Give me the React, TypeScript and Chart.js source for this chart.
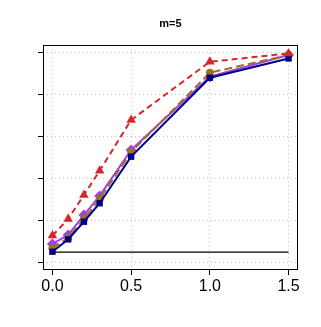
import React, { useEffect, useRef } from "react";
import { Chart, registerables } from "chart.js";

Chart.register(...registerables);

const xValues = [0, 0.1, 0.2, 0.3, 0.5, 1.0, 1.5];
const redSeries = [0.129, 0.208, 0.322, 0.438, 0.68, 0.957, 0.997];
const purpleSeries = [0.089, 0.132, 0.227, 0.318, 0.537, 0.886, 0.989];
const brownSeries = [0.069, 0.118, 0.208, 0.303, 0.527, 0.905, 0.989];
const navySeries = [0.052, 0.111, 0.195, 0.283, 0.505, 0.881, 0.973];
const baselineValue = 0.05;
const xTicks = [0, 0.5, 1.0, 1.5];
const yTicks = [0, 0.2, 0.4, 0.6, 0.8, 1.0];
const titleText = "m=5";

const pts = (ys: number[]) => xValues.map((x, i) => ({ x, y: ys[i] }));

const boxPlugin = {
  id: "boxPlugin",
  afterDraw(chart: any) {
    const { ctx, chartArea } = chart;
    ctx.save();
    ctx.strokeStyle = "#000";
    ctx.lineWidth = 1;
    ctx.setLineDash([]);
    ctx.strokeRect(
      Math.round(chartArea.left) + 0.5,
      Math.round(chartArea.top) + 0.5,
      Math.round(chartArea.right - chartArea.left) - 1,
      Math.round(chartArea.bottom - chartArea.top) - 1
    );
    ctx.fillStyle = "#000";
    ctx.font = "bold 11px 'Liberation Sans'";
    ctx.textAlign = "center";
    ctx.textBaseline = "middle";
    ctx.fillText(titleText, (chartArea.left + chartArea.right) / 2, 24);
    ctx.restore();
  },
};

export default function App() {
  const ref = useRef<HTMLCanvasElement | null>(null);
  useEffect(() => {
    if (!ref.current) return;
    const chart = new Chart(ref.current, {
      type: "scatter",
      data: {
        datasets: [
          {
            data: [
              { x: 0, y: baselineValue },
              { x: 1.5, y: baselineValue },
            ],
            showLine: true,
            borderColor: "#000",
            borderWidth: 1.3,
            pointRadius: 0,
          },
          {
            data: pts(redSeries),
            showLine: true,
            borderColor: "#D7262B",
            backgroundColor: "#D7262B",
            borderWidth: 2,
            borderDash: [6, 4],
            pointStyle: "triangle",
            pointRadius: 5.5,
            pointBorderWidth: 0,
          },
          {
            data: pts(navySeries),
            showLine: true,
            borderColor: "#00008B",
            backgroundColor: "#00008B",
            borderWidth: 2,
            pointStyle: "rect",
            pointRadius: 4.5,
            pointBorderWidth: 0,
          },
          {
            data: pts(brownSeries),
            showLine: true,
            borderColor: "#9A7322",
            backgroundColor: "#9A7322",
            borderWidth: 2,
            borderDash: [8, 4],
            pointStyle: "circle",
            pointRadius: 4,
            pointBorderWidth: 0,
          },
          {
            data: pts(purpleSeries),
            showLine: true,
            borderColor: "#A63FE0",
            backgroundColor: "#A63FE0",
            borderWidth: 2,
            pointStyle: "rectRot",
            pointRadius: 5.5,
            pointBorderWidth: 0,
          },
        ],
      },
      options: {
        animation: false,
        responsive: false,
        layout: { padding: { top: 45, right: 23, bottom: 0, left: 0 } },
        plugins: {
          legend: { display: false },
          tooltip: { enabled: false },
          title: { display: false },
        },
        scales: {
          x: {
            type: "linear",
            min: -0.06,
            max: 1.56,
            afterBuildTicks: (s: any) => {
              s.ticks = xTicks.map((v) => ({ value: v }));
            },
            afterFit: (s: any) => {
              s.height = 57;
            },
            ticks: {
              color: "#000",
              font: { family: "Liberation Sans", size: 16 },
              padding: 2,
              callback: (v: any) => Number(v).toFixed(1),
              maxRotation: 0,
            },
            grid: {
              color: "#c4c4c4",
              lineWidth: 1,
              tickColor: "#000",
              tickBorderDash: [],
              tickLength: 5,
              tickWidth: 1,
            },
            border: { display: false, dash: [1, 3] },
          },
          y: {
            type: "linear",
            min: -0.035,
            max: 1.037,
            afterBuildTicks: (s: any) => {
              s.ticks = yTicks.map((v) => ({ value: v }));
            },
            afterFit: (s: any) => {
              s.width = 43;
            },
            ticks: { display: false },
            grid: {
              color: "#c4c4c4",
              lineWidth: 1,
              tickColor: "#000",
              tickBorderDash: [],
              tickLength: 5,
              tickWidth: 1,
            },
            border: { display: false, dash: [1, 3] },
          },
        },
      },
      plugins: [boxPlugin],
    } as any);
    return () => chart.destroy();
  }, []);
  return (
    <div style={{ position: "fixed", left: 0, top: 0, width: 321, height: 327, background: "#fff" }}>
      <canvas ref={ref} width={321} height={327} style={{ width: 321, height: 327 }} />
    </div>
  );
}
